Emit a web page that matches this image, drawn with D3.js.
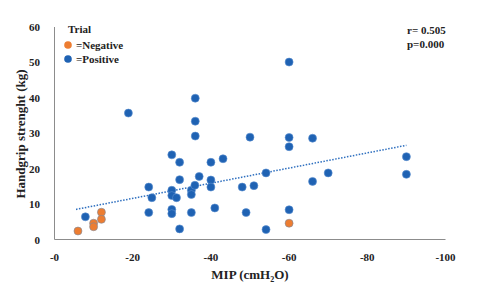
<!DOCTYPE html>
<html>
<head>
<meta charset="utf-8">
<script src="https://cdn.jsdelivr.net/npm/d3@7"></script>
<style>
  body { margin: 0; background: #fff; }
  text { font-family: "Liberation Serif", "Times New Roman", serif; font-weight: bold; fill: #222; }
</style>
</head>
<body>
<svg width="482" height="289"></svg>
<script>
// MIP (cmH2O) and handgrip strength (kg)
const negMIP = [-6, -10, -10, -12, -12, -60];
const negHG  = [2.4, 4.6, 3.6, 7.7, 5.7, 4.6];

const posMIP = [-7.9, -18.9, -24.1, -24.1, -24.9, -30, -30, -30, -30, -30, -31.2, -32, -32, -32,
  -35, -35, -35, -35.9, -36, -36, -36, -37, -40, -40, -40, -41, -43.1, -48, -49, -50, -51,
  -54.1, -54.1, -60, -60, -60, -60, -66, -66, -70, -90, -90];
const posHG  = [6.4, 35.7, 14.8, 7.6, 11.8, 23.9, 13.9, 12.4, 8.5, 7.3, 11.8, 21.8, 16.9, 3.0,
  7.6, 13.9, 12.7, 15.3, 33.4, 39.9, 29.2, 17.8, 21.8, 16.8, 14.8, 8.9, 22.8, 14.8, 7.6, 28.9, 15.2,
  18.8, 2.8, 50.1, 28.8, 26.2, 8.4, 28.6, 16.4, 18.8, 23.4, 18.4];

// linear trend line ends
const trendMIP = [-5.5, -90];
const trendHG  = [8.5, 26.6];

const xTicks = [0, -20, -40, -60, -80, -100];
const xTickLabels = ["-0", "-20", "-40", "-60", "-80", "-100"];
const yTicks = [0, 10, 20, 30, 40, 50, 60];

const blue = "#1f62b3";
const orange = "#ed7d31";

const svg = d3.select("svg");

const x = d3.scaleLinear().domain([0, -100]).range([54.5, 445.5]);
const y = d3.scaleLinear().domain([0, 60]).range([239.5, 27]);

// axes lines
svg.append("line")
    .attr("x1", x(0)).attr("x2", x(0))
    .attr("y1", y(60)).attr("y2", y(0))
    .attr("stroke", "#8c8c8c").attr("stroke-width", 1);
svg.append("line")
    .attr("x1", x(0)).attr("x2", x(-100))
    .attr("y1", y(0)).attr("y2", y(0))
    .attr("stroke", "#8c8c8c").attr("stroke-width", 1);

// tick labels
svg.append("g").selectAll("text")
    .data(xTicks)
    .join("text")
    .attr("x", d => x(d))
    .attr("y", 261)
    .attr("text-anchor", "middle")
    .style("font-size", "11px")
    .text((d, i) => xTickLabels[i]);

svg.append("g").selectAll("text")
    .data(yTicks)
    .join("text")
    .attr("x", 40)
    .attr("y", d => y(d) + 4)
    .attr("text-anchor", "end")
    .style("font-size", "11px")
    .text(d => d);

// axis titles
svg.append("text")
    .attr("x", 250).attr("y", 279)
    .attr("text-anchor", "middle")
    .style("font-size", "13px")
    .html('MIP (cmH<tspan dy="3" font-size="8px">2</tspan><tspan dy="-3">O)</tspan>');

svg.append("text")
    .attr("transform", "translate(25,134) rotate(-90)")
    .attr("text-anchor", "middle")
    .style("font-size", "13px")
    .text("Handgrip strenght (kg)");

// trend line
svg.append("line")
    .attr("x1", x(trendMIP[0])).attr("y1", y(trendHG[0]))
    .attr("x2", x(trendMIP[1])).attr("y2", y(trendHG[1]))
    .attr("stroke", "#2e6fbf")
    .attr("stroke-width", 1.5)
    .attr("stroke-dasharray", "1.5 1.5");

// points
const pos = posMIP.map((d, i) => ({ x: d, y: posHG[i] }));
const neg = negMIP.map((d, i) => ({ x: d, y: negHG[i] }));

svg.append("g").selectAll("circle")
    .data(pos)
    .join("circle")
    .attr("cx", d => x(d.x))
    .attr("cy", d => y(d.y))
    .attr("r", 4)
    .attr("fill", blue)
    .attr("stroke", "#5b8fd0")
    .attr("stroke-width", 0.6);

svg.append("g").selectAll("circle")
    .data(neg)
    .join("circle")
    .attr("cx", d => x(d.x))
    .attr("cy", d => y(d.y))
    .attr("r", 4)
    .attr("fill", orange)
    .attr("stroke", "#7a8aa0")
    .attr("stroke-width", 0.6);

// legend
svg.append("text").attr("x", 68).attr("y", 33).style("font-size", "11px").text("Trial");
const legend = [{ label: "=Negative", color: orange, ly: 45 }, { label: "=Positive", color: blue, ly: 59 }];
legend.forEach(l => {
    svg.append("circle").attr("cx", 68).attr("cy", l.ly).attr("r", 3.8).attr("fill", l.color);
    svg.append("text").attr("x", 76).attr("y", l.ly + 4).style("font-size", "11px").text(l.label);
});

// stats
svg.append("text").attr("x", 407).attr("y", 34).style("font-size", "11px").text("r= 0.505");
svg.append("text").attr("x", 407).attr("y", 48).style("font-size", "11px").text("p=0.000");
</script>
</body>
</html>
